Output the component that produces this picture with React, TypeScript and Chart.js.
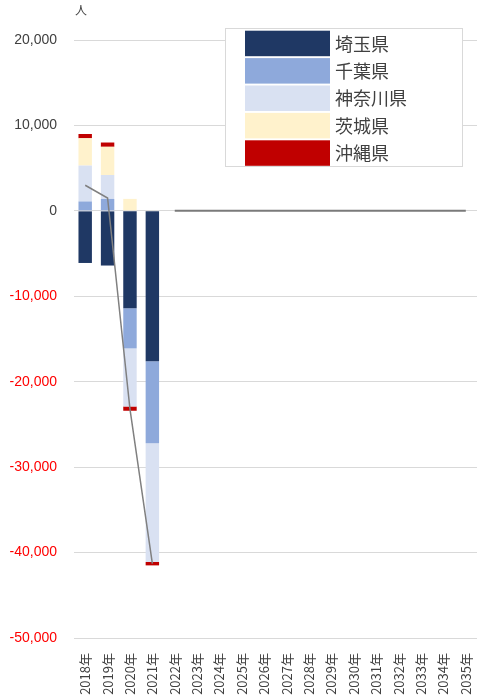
import React, { useEffect, useRef } from 'react';
import { Chart, registerables } from 'chart.js';

Chart.register(...registerables);

const years = ['2018年', '2019年', '2020年', '2021年', '2022年', '2023年', '2024年', '2025年', '2026年', '2027年', '2028年', '2029年', '2030年', '2031年', '2032年', '2033年', '2034年', '2035年'];
const prefectures = ['埼玉県', '千葉県', '神奈川県', '茨城県', '沖縄県'];
const saitama = [-6100, -6400, -11400, -17600, null, null, null, null, null, null, null, null, null, null, null, null, null, null];
const chiba = [1100, 1400, -4700, -9600, null, null, null, null, null, null, null, null, null, null, null, null, null, null];
const kanagawa = [4200, 2800, -6800, -13900, null, null, null, null, null, null, null, null, null, null, null, null, null, null];
const ibaraki = [3200, 3300, 1400, 0, null, null, null, null, null, null, null, null, null, null, null, null, null, null];
const okinawa = [500, 500, -500, -400, null, null, null, null, null, null, null, null, null, null, null, null, null, null];
const total = [3000, 1500, -23200, -41300, null, null, null, null, null, null, null, null, null, null, null, null, null, null];
const zeroLine = [null, null, null, null, 0, 0, 0, 0, 0, 0, 0, 0, 0, 0, 0, 0, 0, 0];
const yMin = -50000;
const yMax = 20000;
const yStep = 10000;
const unitLabel = '人';

const barColors = ['#1F3864', '#8EA9DB', '#D9E1F2', '#FFF2CC', '#C00000'];

const legendPlugin = {
  id: 'customLegend',
  afterDraw(chart: any) {
    const ctx = chart.ctx;
    ctx.save();
    ctx.fillStyle = '#404040';
    ctx.font = '12px "Noto Sans CJK JP", sans-serif';
    ctx.textAlign = 'center';
    ctx.textBaseline = 'middle';
    ctx.fillText(unitLabel, 81, 10);
    const bx = 225, by = 28, bw = 237, bh = 138;
    ctx.fillStyle = '#FFFFFF';
    ctx.fillRect(bx, by, bw, bh);
    ctx.strokeStyle = '#D9D9D9';
    ctx.lineWidth = 1;
    ctx.strokeRect(bx + 0.5, by + 0.5, bw, bh);
    const bars = chart.data.datasets.filter((d: any) => d.type === 'bar');
    bars.forEach((d: any, i: number) => {
      const y = 30.7 + i * 27.4;
      ctx.fillStyle = d.backgroundColor;
      ctx.fillRect(245, y, 85, 25.5);
      ctx.fillStyle = '#404040';
      ctx.font = '18px "Noto Sans CJK JP", sans-serif';
      ctx.textAlign = 'left';
      ctx.textBaseline = 'middle';
      ctx.fillText(d.label, 335, y + 13);
    });
    ctx.restore();
  },
};

export default function App() {
  const ref = useRef<HTMLCanvasElement | null>(null);
  useEffect(() => {
    document.body.style.margin = '0';
    const seriesValues = [saitama, chiba, kanagawa, ibaraki, okinawa];
    const datasets: any[] = prefectures.map((name, i) => ({
      type: 'bar',
      label: name,
      data: seriesValues[i],
      backgroundColor: barColors[i],
      borderWidth: 0,
      stack: 'pref',
      order: 2,
      categoryPercentage: 1,
      barPercentage: 0.6,
    }));
    datasets.push({
      type: 'line',
      label: '合計',
      data: total,
      borderColor: '#808080',
      borderWidth: 1.5,
      pointRadius: 0,
      stack: 'total',
      order: 0,
      spanGaps: false,
    });
    datasets.push({
      type: 'line',
      label: 'zero',
      data: zeroLine,
      borderColor: '#7A7A7A',
      borderWidth: 2,
      pointRadius: 0,
      stack: 'zero',
      order: 1,
      spanGaps: false,
    });
    const chart = new Chart(ref.current as HTMLCanvasElement, {
      type: 'bar',
      data: { labels: years, datasets },
      options: {
        responsive: false,
        animation: false,
        layout: { padding: { top: 40, right: 0, left: 0, bottom: 0 } },
        plugins: { legend: { display: false }, tooltip: { enabled: false } },
        scales: {
          x: {
            stacked: true,
            grid: { display: false },
            border: { display: false },
            ticks: {
              maxRotation: 90,
              minRotation: 90,
              autoSkip: false,
              padding: 7,
              color: '#404040',
              font: { size: 13, family: '"Noto Sans CJK JP", sans-serif' },
            },
            afterFit(scale: any) {
              scale.height = 58;
              scale.paddingLeft = 0;
              scale.paddingRight = 0;
            },
          },
          y: {
            stacked: true,
            min: yMin,
            max: yMax,
            grid: { color: '#D9D9D9', drawTicks: false },
            border: { display: false },
            ticks: {
              stepSize: yStep,
              padding: 17,
              font: { size: 14, family: '"Liberation Sans", sans-serif' },
              color: (c: any) => (c.tick && c.tick.value < 0 ? '#FF0000' : '#404040'),
              callback: (v: any) => Number(v).toLocaleString('en-US'),
            },
            afterFit(scale: any) {
              scale.width = 74;
              scale.paddingTop = 0;
              scale.paddingBottom = 0;
            },
          },
        },
      },
      plugins: [legendPlugin],
    } as any);
    return () => chart.destroy();
  }, []);
  return <canvas ref={ref} width={477} height={696} style={{ display: 'block', width: 477, height: 696 }} />;
}
